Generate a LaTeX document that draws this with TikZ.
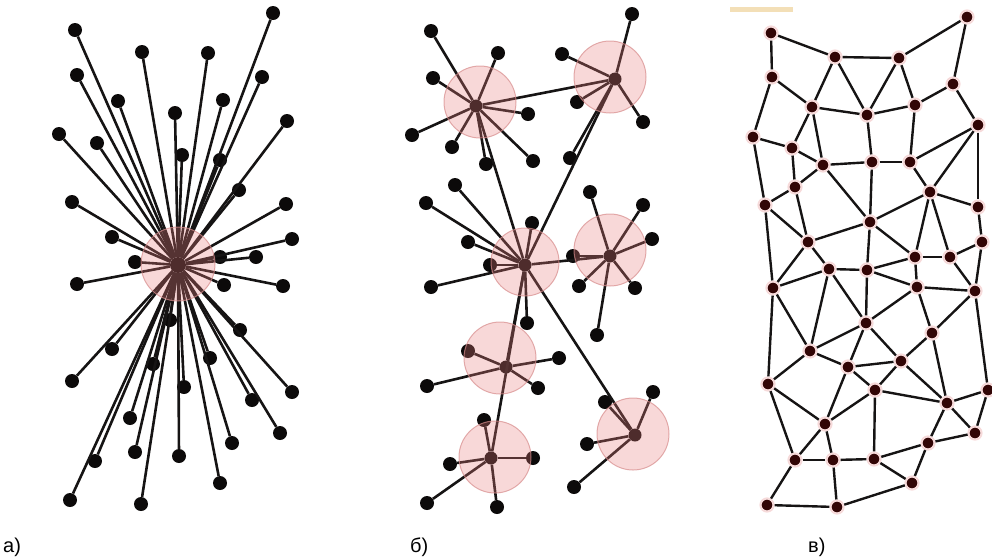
\documentclass[tikz,border=0pt]{standalone}
\usepackage{fontspec}
\setmainfont{Liberation Sans}
\definecolor{leafcol}{RGB}{12,10,10}
\definecolor{linkcol}{RGB}{22,20,20}
\definecolor{hubfill}{RGB}{232,125,125}
\definecolor{hubedge}{RGB}{215,140,140}
\definecolor{cnode}{RGB}{50,6,6}
\definecolor{cring}{RGB}{246,218,218}
\definecolor{tanbar}{RGB}{240,215,165}
\tikzset{
  leaf/.style={circle, fill=leafcol, inner sep=0pt, minimum size=14pt},
  hubdot/.style={circle, fill=leafcol, inner sep=0pt, minimum size=13pt},
  link/.style={draw=linkcol, line width=2.6pt},
  halo/.style={circle, inner sep=0pt, fill=hubfill, fill opacity=0.30, draw=hubedge, draw opacity=0.7, line width=1pt},
  mnode/.style={circle, fill=cnode, inner sep=0pt, minimum size=13pt, draw=cring, line width=2.2pt},
  mlink/.style={draw=linkcol, line width=2.4pt},
  lbl/.style={font=\fontsize{20}{24}\selectfont, anchor=base west, inner sep=0pt}
}
\begin{document}
\begin{tikzpicture}[x=1pt,y=-1pt]
\useasboundingbox (0,0) rectangle (992,558);
% ---------------- panel a ----------------
\node[hubdot, minimum size=16pt] (ac) at (178,265) {};
\foreach \p [count=\i] in {(75,30),(273,13),(142,52),(208,53),(77,75),(262,77),(118,101),(223,100),(175,113),(287,121),(59,134),(97,143),(182,155),(220,160),(72,202),(239,190),(286,204),(112,237),(292,239),(256,257),(220,257),(135,262),(77,284),(283,286),(224,285),(170,320),(240,330),(112,349),(210,358),(153,364),(72,381),(184,387),(292,392),(252,400),(130,418),(280,433),(232,443),(135,452),(179,456),(95,461),(220,483),(70,500),(141,504)}
  \node[leaf] (a\i) at \p {};
\foreach \i in {1,...,43} \draw[link] (ac) -- (a\i);
\node[halo, minimum size=74pt] (haloa) at (178,264) {};
% ---------------- panel b ----------------
\node[hubdot] (bA) at (476,106) {};
\node[hubdot] (bB) at (615,79) {};
\node[hubdot] (bC) at (525,265) {};
\node[hubdot] (bD) at (610,256) {};
\node[hubdot] (bE) at (506,367) {};
\node[hubdot] (bF) at (491,458) {};
\node[hubdot] (bG) at (635,435) {};
\foreach \p [count=\i] in {(431,31),(498,53),(433,78),(528,114),(412,135),(452,147),(486,164),(533,161)}
  {\node[leaf] (bA\i) at \p {}; \draw[link] (bA) -- (bA\i);}
\foreach \p [count=\i] in {(632,14),(562,54),(577,102),(643,122),(570,158)}
  {\node[leaf] (bB\i) at \p {}; \draw[link] (bB) -- (bB\i);}
\foreach \p [count=\i] in {(426,203),(455,185),(532,223),(468,242),(490,265),(431,287),(527,323)}
  {\node[leaf] (bC\i) at \p {}; \draw[link] (bC) -- (bC\i);}
\foreach \p [count=\i] in {(590,192),(643,205),(652,239),(573,256),(579,286),(635,288),(597,335)}
  {\node[leaf] (bD\i) at \p {}; \draw[link] (bD) -- (bD\i);}
\foreach \p [count=\i] in {(468,351),(559,358),(427,386),(538,388)}
  {\node[leaf] (bE\i) at \p {}; \draw[link] (bE) -- (bE\i);}
\foreach \p [count=\i] in {(484,420),(533,458),(450,464),(427,503),(497,507)}
  {\node[leaf] (bF\i) at \p {}; \draw[link] (bF) -- (bF\i);}
\foreach \p [count=\i] in {(653,392),(605,402),(587,444),(574,487)}
  {\node[leaf] (bG\i) at \p {}; \draw[link] (bG) -- (bG\i);}
\draw[link] (bA) -- (bB);
\draw[link] (bA) -- (bC);
\draw[link] (bB) -- (bC);
\draw[link] (bC) -- (bD);
\draw[link] (bC) -- (bE);
\draw[link] (bC) -- (bF);
\draw[link] (bC) -- (bG);
\node[halo, minimum size=72pt] (haloA) at (480,102) {};
\node[halo, minimum size=72pt] (haloB) at (610,77) {};
\node[halo, minimum size=68pt] (haloC) at (525,262) {};
\node[halo, minimum size=72pt] (haloD) at (610,250) {};
\node[halo, minimum size=72pt] (haloE) at (500,358) {};
\node[halo, minimum size=72pt] (haloF) at (495,457) {};
\node[halo, minimum size=72pt] (haloG) at (633,434) {};
% ---------------- panel c ----------------
\fill[tanbar, opacity=0.8] (730,7) rectangle (793,12);
\foreach \p [count=\i] in {(771,33),(967,17),(835,57),(899,58),(772,77),(953,84),(812,107),(867,115),(915,105),(978,125),(753,137),(792,148),(823,165),(872,162),(910,162),(795,187),(930,192),(765,205),(978,207),(870,222),(808,242),(982,242),(915,257),(950,257),(829,269),(867,270),(773,288),(917,287),(975,291),(866,323),(932,333),(810,351),(848,367),(901,361),(768,384),(875,390),(947,403),(988,390),(825,424),(975,433),(928,443),(795,460),(833,460),(874,459),(912,483),(767,505),(837,507)}
  \node[mnode] (c\i) at \p {};
\foreach \u/\v in {1/3,1/5,3/4,4/2,2/6,3/7,3/8,4/8,4/9,5/7,5/11,7/8,8/9,9/6,6/10,
  7/12,7/13,11/12,11/18,12/13,12/16,13/16,13/14,13/20,8/14,9/15,14/15,14/20,15/17,10/15,10/17,10/19,17/19,17/20,17/23,17/24,
  16/18,16/21,18/21,18/27,19/22,20/21,20/23,20/26,23/24,24/22,23/26,21/25,21/27,
  25/26,25/27,25/32,25/30,26/30,26/28,23/28,28/29,24/29,22/29,28/30,28/31,29/31,29/38,
  27/32,27/35,32/30,32/33,35/32,30/33,30/34,31/34,33/34,33/36,34/36,34/37,31/37,36/37,36/39,33/39,35/39,35/42,39/42,39/43,
  37/38,37/40,37/41,38/40,36/44,41/44,41/40,41/45,44/45,44/43,42/43,42/46,43/47,46/47,47/45}
  \draw[mlink] (c\u) -- (c\v);
% ---------------- labels ----------------
\node[lbl] (la) at (3,552) {а)};
\node[lbl] (lb) at (410,552) {б)};
\node[lbl] (lc) at (808,552) {в)};
\end{tikzpicture}
\end{document}
